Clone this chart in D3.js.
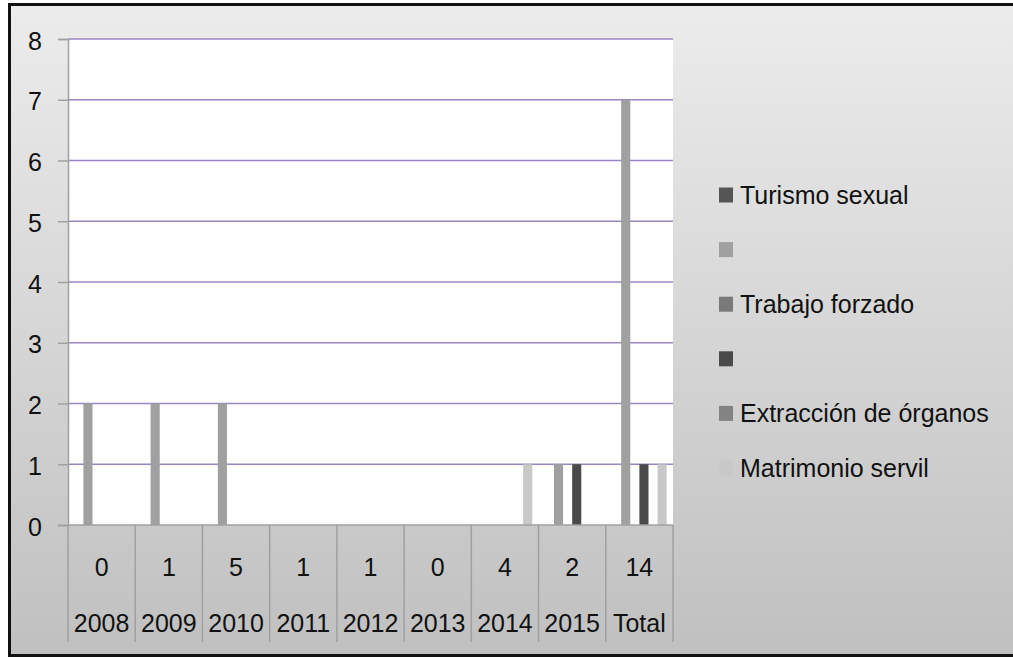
<!DOCTYPE html>
<html>
<head>
<meta charset="utf-8">
<script src="https://cdn.jsdelivr.net/npm/d3@7"></script>
<style>
  html, body { margin: 0; padding: 0; background: #fff; }
  svg { display: block; font-family: "Liberation Sans", Arial, sans-serif; }
</style>
</head>
<body>
<svg id="chart" width="1013" height="657"></svg>
<script>
// categories (two-level axis)
const years = ["2008", "2009", "2010", "2011", "2012", "2013", "2014", "2015", "Total"];
const counts = ["0", "1", "5", "1", "1", "0", "4", "2", "14"];

// series
const seriesNames = ["Turismo sexual", "", "Trabajo forzado", "", "Extracción de órganos", "Matrimonio servil"];
const seriesColors = ["#555555", "#a0a0a0", "#7a7a7a", "#4a4a4a", "#838383", "#c8c8c8"];
const turismo    = [0, 0, 0, 0, 0, 0, 0, 0, 0];
const serieB     = [2, 2, 2, 0, 0, 0, 0, 1, 7];
const trabajo    = [0, 0, 0, 0, 0, 0, 0, 0, 0];
const serieD     = [0, 0, 0, 0, 0, 0, 0, 1, 1];
const extraccion = [0, 0, 0, 0, 0, 0, 0, 0, 0];
const matrimonio = [0, 0, 0, 0, 0, 0, 1, 0, 1];
const seriesValues = [turismo, serieB, trabajo, serieD, extraccion, matrimonio];
const yTicks = [0, 1, 2, 3, 4, 5, 6, 7, 8];

const svg = d3.select("#chart");
const W = 1013, H = 657;

// background gradient
const defs = svg.append("defs");
const grad = defs.append("linearGradient").attr("id", "bg")
    .attr("x1", 0).attr("y1", 0).attr("x2", 0).attr("y2", 1);
grad.append("stop").attr("offset", "0%").attr("stop-color", "#ececec");
grad.append("stop").attr("offset", "100%").attr("stop-color", "#c0c0c0");

svg.append("rect")
    .attr("x", 9.5).attr("y", 4.5)
    .attr("width", W + 20).attr("height", H - 6)
    .attr("fill", "url(#bg)")
    .attr("stroke", "#111").attr("stroke-width", 3);

const plot = { left: 68, right: 673, top: 39, bottom: 525 };

const x0 = d3.scaleBand().domain(years).range([plot.left, plot.right]).padding(0);
const catW = x0.bandwidth();
const x1 = d3.scaleBand().domain(d3.range(seriesNames.length))
    .range([6.3, catW - 6.3]).padding(0);
const y = d3.scaleLinear().domain([0, 8]).range([plot.bottom, plot.top]);

// plot area
svg.append("rect")
    .attr("x", plot.left).attr("y", plot.top)
    .attr("width", plot.right - plot.left).attr("height", plot.bottom - plot.top)
    .attr("fill", "#fff");

// gridlines
svg.append("g").selectAll("line")
    .data(yTicks.filter(d => d > 0))
    .join("line")
    .attr("x1", plot.left).attr("x2", plot.right)
    .attr("y1", d => y(d)).attr("y2", d => y(d))
    .attr("stroke", "#9a86c2").attr("stroke-width", 1.5);

// bars
const bars = [];
seriesValues.forEach((vals, s) => {
    vals.forEach((v, i) => bars.push({ s, cat: years[i], v }));
});
svg.append("g").selectAll("rect")
    .data(bars.filter(d => d.v > 0))
    .join("rect")
    .attr("x", d => x0(d.cat) + x1(d.s))
    .attr("width", x1.bandwidth())
    .attr("y", d => y(d.v))
    .attr("height", d => y(0) - y(d.v))
    .attr("fill", d => seriesColors[d.s]);

// y axis
const yAxis = svg.append("g").attr("transform", `translate(${plot.left},0)`)
    .call(d3.axisLeft(y).tickValues(yTicks).tickSize(10).tickPadding(16).tickFormat(d3.format("d")));
yAxis.select(".domain").attr("stroke", "#a0a0a0").attr("stroke-width", 1.5);
yAxis.selectAll(".tick line").attr("stroke", "#a0a0a0").attr("stroke-width", 1.5);
yAxis.selectAll(".tick text")
    .attr("font-size", 25).attr("fill", "#111")
    .attr("font-family", "Liberation Sans, Arial, sans-serif")
    .attr("dy", "0.4em");

// x axis table (two levels)
const xg = svg.append("g");
xg.append("line")
    .attr("x1", plot.left).attr("x2", plot.right)
    .attr("y1", plot.bottom).attr("y2", plot.bottom)
    .attr("stroke", "#a0a0a0").attr("stroke-width", 1.5);
xg.selectAll("line.sep")
    .data(years.map(d => x0(d)).concat([plot.right]))
    .join("line").attr("class", "sep")
    .attr("x1", d => d).attr("x2", d => d)
    .attr("y1", plot.bottom).attr("y2", 642)
    .attr("stroke", "#a0a0a0").attr("stroke-width", 1.5);
xg.selectAll("text.cnt")
    .data(years)
    .join("text").attr("class", "cnt")
    .attr("x", d => x0(d) + catW / 2)
    .attr("y", 576)
    .attr("text-anchor", "middle")
    .attr("font-size", 25).attr("fill", "#111")
    .text((d, i) => counts[i]);
xg.selectAll("text.yr")
    .data(years)
    .join("text").attr("class", "yr")
    .attr("x", d => x0(d) + catW / 2)
    .attr("y", 632)
    .attr("text-anchor", "middle")
    .attr("font-size", 25).attr("fill", "#111")
    .text(d => d);

// legend
const legendY = d3.scalePoint().domain(d3.range(seriesNames.length)).range([195, 468]);
const leg = svg.append("g").selectAll("g")
    .data(seriesNames.map((name, i) => ({ name, i })))
    .join("g")
    .attr("transform", d => `translate(719,${legendY(d.i)})`);
leg.append("rect")
    .attr("x", 0).attr("y", -7.5)
    .attr("width", 14).attr("height", 15)
    .attr("fill", d => seriesColors[d.i]);
leg.append("text")
    .attr("x", 21).attr("y", 9)
    .attr("font-size", 25).attr("fill", "#111")
    .text(d => d.name);
</script>
</body>
</html>
